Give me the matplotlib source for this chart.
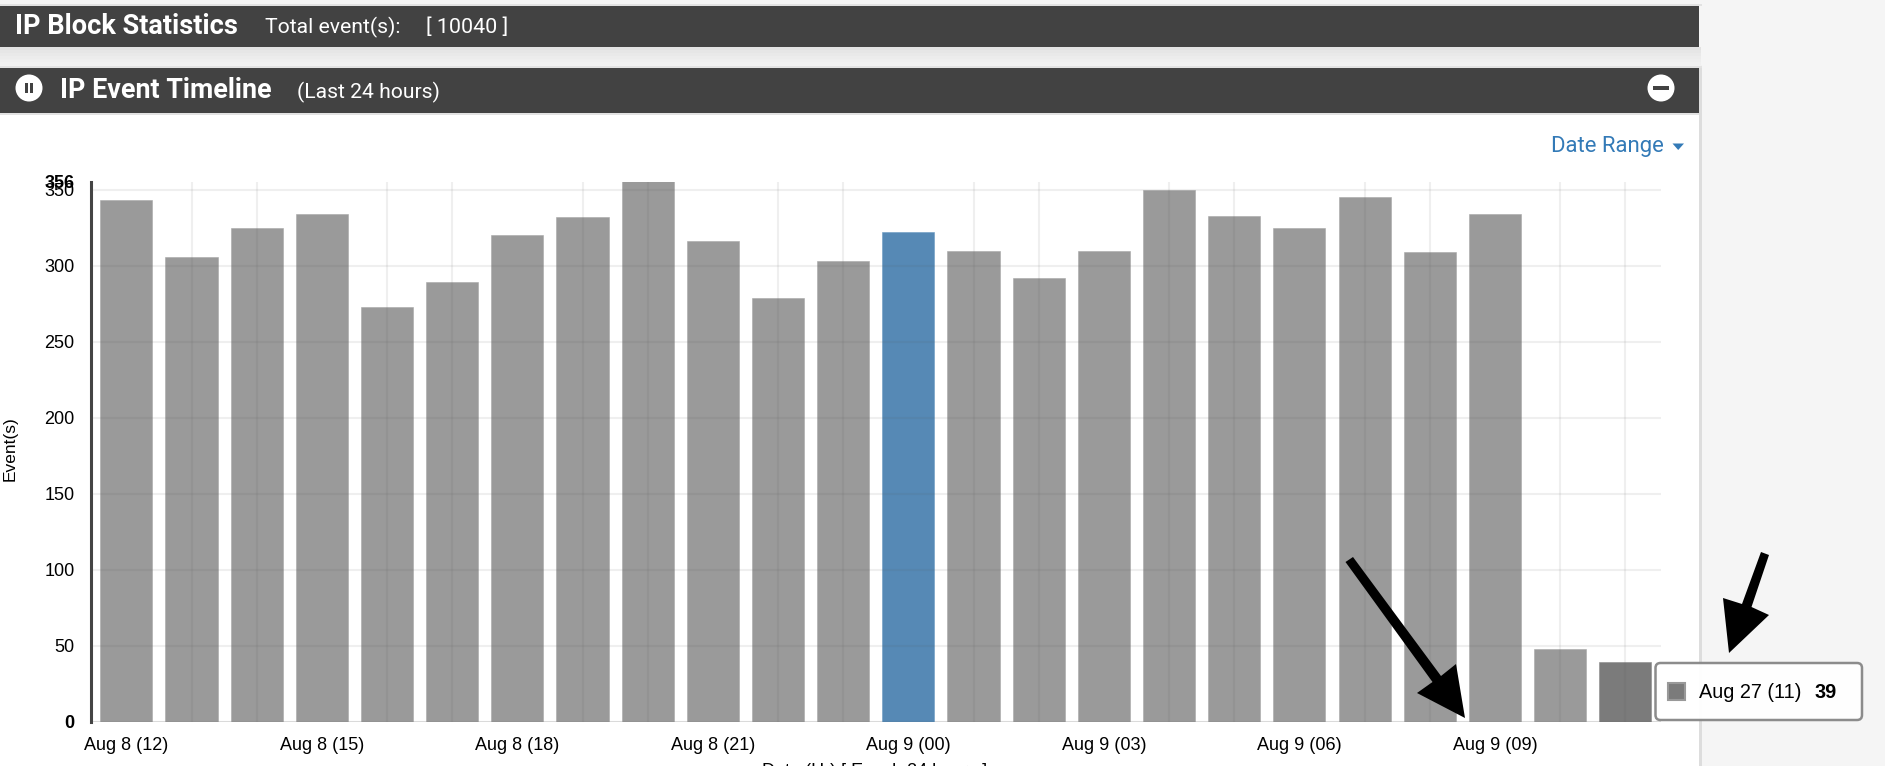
import matplotlib
matplotlib.use('Agg')
import matplotlib.pyplot as plt
from matplotlib.patches import Rectangle, Circle, FancyBboxPatch, Polygon

W, H = 1885, 766

hours = ['Aug 8 (12)', 'Aug 8 (13)', 'Aug 8 (14)', 'Aug 8 (15)', 'Aug 8 (16)', 'Aug 8 (17)',
         'Aug 8 (18)', 'Aug 8 (19)', 'Aug 8 (20)', 'Aug 8 (21)', 'Aug 8 (22)', 'Aug 8 (23)',
         'Aug 9 (00)', 'Aug 9 (01)', 'Aug 9 (02)', 'Aug 9 (03)', 'Aug 9 (04)', 'Aug 9 (05)',
         'Aug 9 (06)', 'Aug 9 (07)', 'Aug 9 (08)', 'Aug 9 (09)', 'Aug 9 (10)', 'Aug 9 (11)']
events = [343, 306, 325, 334, 273, 289, 320, 332, 356, 316, 279, 303,
          322, 310, 292, 310, 350, 333, 325, 345, 309, 334, 48, 39]
bar_colors = ['#9a9a9a'] * 23 + ['#7b7b7b']
bar_colors[12] = '#5689b5'
edge_colors = ['#a8a8a8'] * 23 + ['#8a8a8a']
edge_colors[12] = '#6a9ac2'
y_ticks = [0, 50, 100, 150, 200, 250, 300, 350]

fig = plt.figure(figsize=(W / 100, H / 100), dpi=100, facecolor='#f5f5f5')

# page chrome, drawn in pixel coordinates
bg = fig.add_axes([0, 0, 1, 1], zorder=0)
bg.set_xlim(0, W)
bg.set_ylim(H, 0)
bg.axis('off')
bg.add_patch(Rectangle((0, 113), 1700, H - 113, fc='white', ec='none'))
bg.add_patch(Rectangle((1699, 66), 3, H - 66, fc='#dddddd', ec='none'))
bg.add_patch(Rectangle((0, 4), 1702, 2, fc='#e2e2e2', ec='none'))
# soft shadow under the first header
for i, c in enumerate(['#e2e2e2', '#e6e6e6', '#e9e9e9', '#ececec', '#eeeeee', '#f0f0f0']):
    bg.add_patch(Rectangle((0, 47 + i * 3), 1701, 3, fc=c, ec='none'))
bg.add_patch(Rectangle((0, 65), 1702, 12, fc='#f1f1f1', ec='none', zorder=0.5))
bg.add_patch(Rectangle((0, 66), 1702, 2, fc='#e2e2e2', ec='none'))
bg.add_patch(Rectangle((0, 6), 1699, 41, fc='#424242', ec='none'))
bg.add_patch(Rectangle((0, 68), 1699, 45, fc='#424242', ec='none'))
bg.add_patch(Rectangle((0, 113), 1699, 2, fc='#e2e2e2', ec='none'))

hdr = {'family': 'Roboto', 'color': 'white', 'va': 'center'}
bg.text(15, 26, 'IP Block Statistics', fontsize=19.5, fontweight='bold', **hdr)
bg.text(265, 27.5, 'Total event(s):', fontsize=15.2, **hdr)
bg.text(426, 27.5, '[ 10040 ]', fontsize=15.4, **hdr)
bg.text(60, 91, 'IP Event Timeline', fontsize=19.4, fontweight='bold', **hdr)
bg.text(297, 92.5, '(Last 24 hours)', fontsize=15.2, **hdr)

# pause and collapse buttons
bg.add_patch(Circle((29, 88), 13.5, fc='white', ec='none'))
bg.add_patch(Rectangle((25, 83), 3, 10, fc='#424242', ec='none'))
bg.add_patch(Rectangle((30, 83), 3, 10, fc='#424242', ec='none'))
bg.add_patch(Circle((1661, 88), 13.5, fc='white', ec='none'))
bg.add_patch(Rectangle((1653, 86), 16, 4, fc='#424242', ec='none'))

bg.text(1551, 146.5, 'Date Range', family='Roboto', fontsize=15.9, color='#337ab7', va='center')
bg.add_patch(Polygon([[1672.5, 143.5], [1684, 143.5], [1678.2, 150]], fc='#337ab7', ec='none'))

# chart
ax = fig.add_axes([90.5 / W, 1 - 721.7 / H, 1570.2 / W, (721.7 - 181.5) / H], zorder=1)
ax.patch.set_alpha(0)
x = list(range(len(events)))
ax.bar(x, events, width=0.80, color=bar_colors, edgecolor=edge_colors, linewidth=0.4, zorder=2)
ax.set_xlim(-0.55, 23.544)
ax.set_ylim(0, 355.4)
ax.set_yticks(y_ticks)
ax.set_yticks([355.4], minor=True)
ax.set_yticklabels([str(v) for v in y_ticks], family='Liberation Sans', fontsize=13)
ax.set_yticklabels(['356'], minor=True, family='Liberation Sans', fontsize=13, fontweight='bold')
ax.get_yticklabels()[0].set_fontweight('bold')
ax.set_xticks(x[::3])
ax.set_xticklabels(hours[::3], family='Liberation Sans', fontsize=13)
ax.set_xticks(x, minor=True)
ax.tick_params(axis='both', which='both', length=0)
ax.tick_params(axis='x', which='major', pad=11)
ax.tick_params(axis='y', which='both', pad=11.5)
ax.grid(True, which='major', axis='y', color='#555555', alpha=0.09, lw=1.5, zorder=3)
ax.grid(True, which='minor', axis='x', color='#555555', alpha=0.09, lw=1.5, zorder=3)
ax.set_axisbelow(False)
for s in ['top', 'right', 'bottom']:
    ax.spines[s].set_visible(False)
ax.spines['left'].set_color('#444444')
ax.spines['left'].set_linewidth(2.2)
ax.axhline(0, color='#e8e8e8', lw=1.5, zorder=1)
ax.set_ylabel('Event(s)', family='Liberation Sans', fontsize=12.5)
ax.yaxis.set_label_coords(-0.0462, 0.505)

# overlay: x label clipped by the page edge, tooltip, arrows
top = fig.add_axes([0, 0, 1, 1], zorder=2)
top.set_xlim(0, W)
top.set_ylim(H, 0)
top.axis('off')
top.patch.set_alpha(0)
top.text(875, 771, 'Date (Hr) [ Epoch 24 hours ]', family='Liberation Sans', fontsize=13,
         ha='center', va='center', clip_on=True)

top.add_patch(FancyBboxPatch((1655.5, 663), 206.5, 57, boxstyle='round,pad=0,rounding_size=5',
                             fc='white', ec='#888888', lw=1.8, alpha=0.97))
top.add_patch(Rectangle((1668, 683), 17, 17, fc='#7b7b7b', ec='#999999', lw=1.5))
top.text(1699, 692, 'Aug 27 (11)', family='Liberation Sans', fontsize=14.3, va='center')
top.text(1815, 692, '39', family='Liberation Sans', fontsize=14.3, fontweight='bold', va='center')

# hand drawn arrows on the screenshot
arrow_long = [[1345.5, 562], [1353, 557], [1441, 676], [1456, 664], [1465, 718], [1417, 693], [1432.5, 682]]
arrow_short = [[1761, 552], [1769, 555], [1751.5, 607], [1769, 615], [1729, 653], [1723, 598], [1742, 604]]
top.add_patch(Polygon(arrow_long, fc='black', ec='none'))
top.add_patch(Polygon(arrow_short, fc='black', ec='none'))

fig.savefig('out.png', dpi=100, facecolor=fig.get_facecolor())
